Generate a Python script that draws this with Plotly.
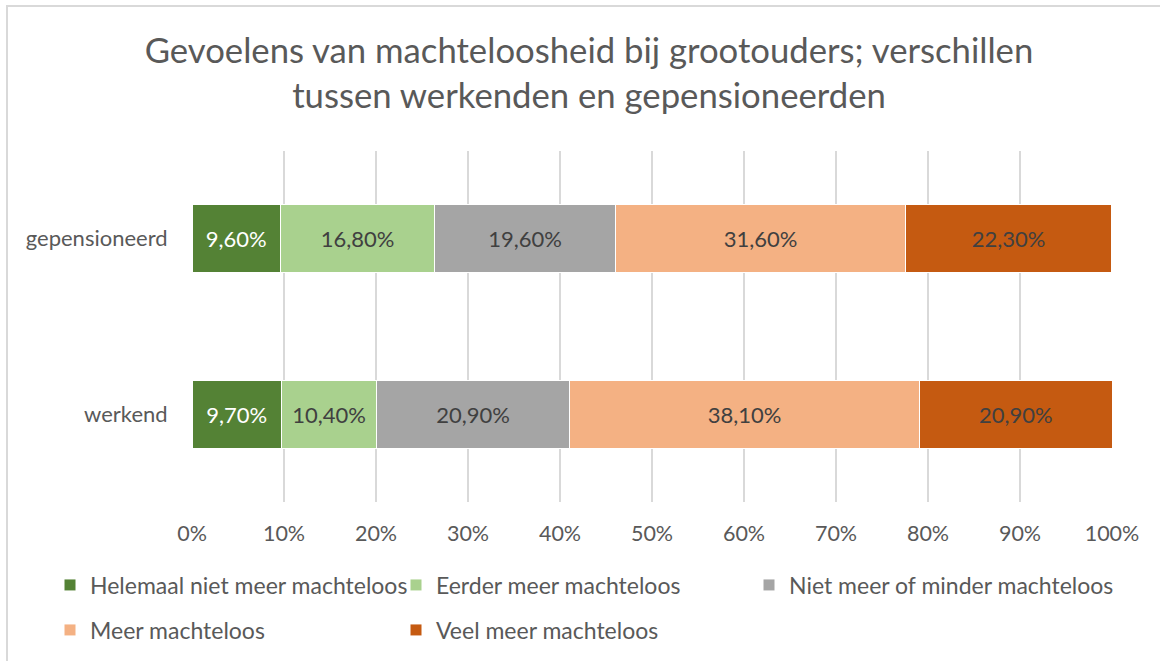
import plotly.graph_objects as go

categories = ["werkend", "gepensioneerd"]
series_names = [
    "Helemaal niet meer machteloos",
    "Eerder meer machteloos",
    "Niet meer of minder machteloos",
    "Meer machteloos",
    "Veel meer machteloos",
]
helemaal_niet = [9.7, 9.6]
eerder_meer = [10.4, 16.8]
niet_meer_of_minder = [20.9, 19.6]
meer = [38.1, 31.6]
veel_meer = [20.9, 22.3]
tick_vals = [0, 10, 20, 30, 40, 50, 60, 70, 80, 90, 100]
tick_text = ["0%", "10%", "20%", "30%", "40%", "50%", "60%", "70%", "80%", "90%", "100%"]

series_values = [helemaal_niet, eerder_meer, niet_meer_of_minder, meer, veel_meer]
colors = ["#548235", "#A9D18E", "#A5A5A5", "#F4B183", "#C55A11"]
label_colors = ["#FFFFFF", "#404040", "#404040", "#404040", "#404040"]
legend_ids = ["legend", "legend", "legend3", "legend2", "legend2"]

FONT = "Lato"
W, H = 1160, 661
L, R, T, B = 192, 48, 151, 159
pw = W - L - R
ph = H - T - B

fig = go.Figure()
for name, vals, col, lc, lg in zip(series_names, series_values, colors, label_colors, legend_ids):
    fig.add_trace(go.Bar(
        y=categories, x=vals, name=name, orientation="h",
        marker=dict(color=col, line=dict(color="#FFFFFF", width=1)),
        text=[f"{v:.2f}".replace(".", ",") + "%" for v in vals],
        textposition="inside", insidetextanchor="middle", textangle=0,
        constraintext="none",
        textfont=dict(family=FONT, size=22, color=lc),
        legend=lg, hoverinfo="skip",
    ))

def px_x(p):
    return (p - L) / pw

def px_y(p):
    return (H - B - p) / ph

legend_common = dict(
    orientation="h", xanchor="left", yanchor="middle",
    entrywidthmode="pixels", traceorder="normal",
    font=dict(family=FONT, size=23, color="#595959"),
    bgcolor="rgba(0,0,0,0)",
)

fig.update_layout(
    width=W, height=H,
    margin=dict(l=L, r=R, t=T, b=B, autoexpand=False),
    barmode="stack", bargap=0.61,
    paper_bgcolor="white", plot_bgcolor="white",
    title=dict(
        text="Gevoelens van machteloosheid bij grootouders; verschillen<br>tussen werkenden en gepensioneerden",
        x=589 / W, xanchor="center", xref="container",
        y=1 - 63 / H, yanchor="middle", yref="container",
        font=dict(family=FONT, size=34.7, color="#595959"),
    ),
    xaxis=dict(
        range=[0, 100], tickvals=tick_vals, ticktext=tick_text,
        showgrid=True, gridcolor="#D9D9D9", gridwidth=1.5,
        zeroline=False, showline=False,
        ticks="outside", ticklen=12, tickcolor="rgba(0,0,0,0)",
        tickfont=dict(family=FONT, size=21.5, color="#595959"),
        fixedrange=True,
    ),
    yaxis=dict(
        categoryorder="array", categoryarray=categories,
        showgrid=False, zeroline=False, showline=False,
        ticks="outside", ticklen=19, tickcolor="rgba(0,0,0,0)",
        tickfont=dict(family=FONT, size=22, color="#595959"),
        fixedrange=True,
    ),
    legend=dict(x=px_x(50), y=px_y(585), entrywidth=301, **legend_common),
    legend2=dict(x=px_x(50), y=px_y(630), entrywidth=301, **legend_common),
    legend3=dict(x=px_x(749), y=px_y(585), entrywidth=345, **legend_common),
    showlegend=True,
)

# chart border (top and left edges visible in the crop)
fig.add_shape(type="line", xref="paper", yref="paper",
              x0=px_x(6), x1=px_x(W + 10), y0=px_y(6), y1=px_y(6),
              line=dict(color="#D9D9D9", width=2))
fig.add_shape(type="line", xref="paper", yref="paper",
              x0=px_x(7), x1=px_x(7), y0=px_y(6), y1=px_y(H + 10),
              line=dict(color="#D9D9D9", width=2))

fig.write_html(
    "out.html",
    config={"displayModeBar": False},
    post_script="document.body.style.margin='0';document.body.style.overflow='hidden';",
)
